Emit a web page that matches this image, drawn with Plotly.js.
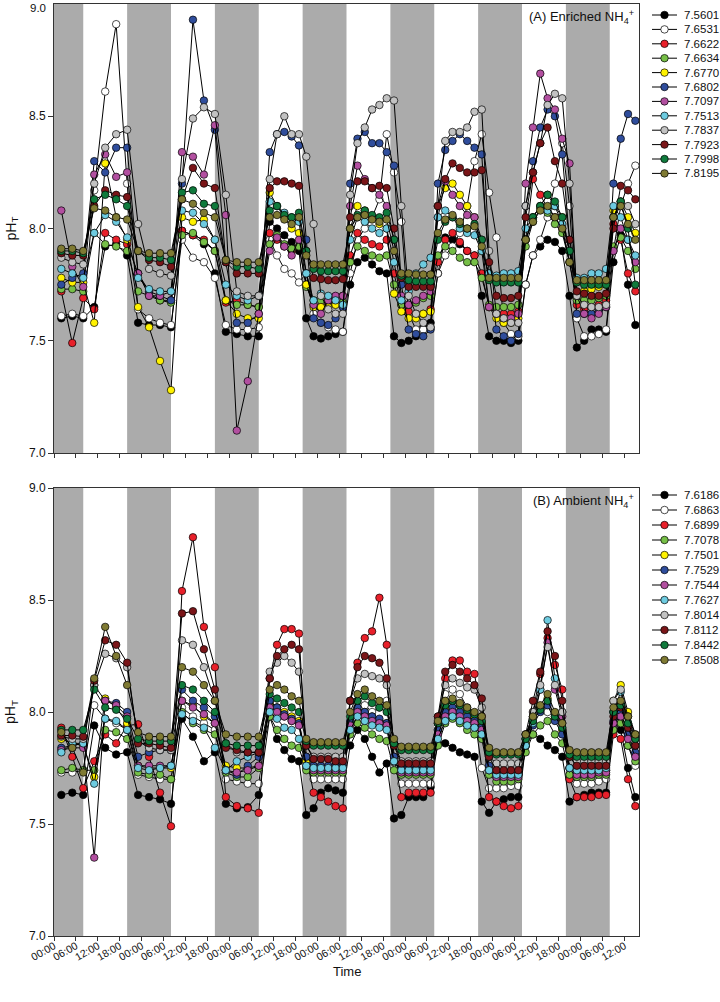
<!DOCTYPE html>
<html><head><meta charset="utf-8">
<script src="https://cdn.plot.ly/plotly-3.0.1.min.js"></script>
<style>html,body{margin:0;padding:0;background:#fff;}#chart{width:720px;height:1002px;}</style>
</head><body><div id="chart"></div>
<script>
// sampling times (hours from start)
const hours = [2,5,8,11,14,17,20,23,26,29,32,35,38,41,44,47,50,53,56,59,61,63,65,67,69,71,73,75,77,79,81,83,85,87,89,91,93,95,97,99,101,103,105,107,109,111,113,115,117,119,121,123,125,127,129,131,133,135,137,139,141,143,145,147,149,151,153,155,157,159];
const tickHours = [0,6,12,18,24,30,36,42,48,54,60,66,72,78,84,90,96,102,108,114,120,126,132,138,144,150,156];
const tickLabels = ["00:00","06:00","12:00","18:00","00:00","06:00","12:00","18:00","00:00","06:00","12:00","18:00","00:00","06:00","12:00","18:00","00:00","06:00","12:00","18:00","00:00","06:00","12:00","18:00","00:00","06:00","12:00"];
const midnightHours = [0,24,48,72,96,120,144];
const nightStart = [0,20,44,68,92,116,140];
const nightEnd = [8,32,56,80,104,128,152];
const yTicks = [7.0,7.5,8.0,8.5,9.0];
const yTickText = ["7.0","7.5","8.0","8.5","9.0"];

const namesA = ["7.5601","7.6531","7.6622","7.6634","7.6770","7.6802","7.7097","7.7513","7.7837","7.7923","7.7998","7.8195"];
const namesB = ["7.6186","7.6863","7.6899","7.7078","7.7501","7.7529","7.7544","7.7627","7.8014","7.8112","7.8442","7.8508"];
const colors = ["#000000","#ffffff","#e8202a","#76bf47","#fff200","#2f4d9c","#b24fa0","#6dcbe0","#c2c2c2","#7a1518","#0f7a3c","#7f7a33"];

// Panel A: Enriched NH4+
const A_black = [7.60,7.61,7.60,7.65,7.92,7.93,7.88,7.58,7.57,7.57, 7.56,7.99,7.97,7.93,7.80,7.54,7.53,7.52,7.52,8.03, 8.00,7.97,7.94,7.90,7.60,7.52,7.51,7.52,7.53,7.54, 7.75,7.85,7.87,7.84,7.81,7.80,7.52,7.49,7.50,7.52, 7.56,7.58,7.80,7.96,7.95,7.93,7.90,7.88,7.70,7.52, 7.50,7.50,7.49,7.50,7.75,7.88,7.92,7.95,7.94,7.90, 7.70,7.47,7.50,7.55,7.55,7.54,7.85,7.97,7.75,7.57];
const A_white = [7.61,7.62,7.61,8.17,8.61,8.91,8.20,7.64,7.60,7.58, 7.57,7.95,7.87,7.85,7.78,7.57,7.55,7.55,7.56,7.95, 7.88,7.82,7.80,7.76,7.80,7.62,7.58,7.56,7.55,7.54, 7.80,7.95,8.00,8.05,8.13,8.42,8.25,8.03,7.62,7.55, 7.55,7.56,7.80,7.88,7.92,7.98,8.10,8.30,8.42,8.16, 7.96,7.58,7.53,7.52,7.75,7.88,7.95,8.05,8.20,8.38, 8.10,7.60,7.52,7.52,7.53,7.55,7.90,8.10,8.20,8.28];
const A_red = [7.72,7.49,7.69,7.64,7.98,7.95,7.93,7.80,7.71,7.68, 7.68,7.99,7.97,7.95,7.90,7.67,7.68,7.66,7.65,7.98, 7.95,7.92,7.90,7.92,7.75,7.66,7.65,7.66,7.68,7.70, 7.88,7.98,7.95,7.93,7.92,7.95,7.80,7.66,7.63,7.62, 7.62,7.64,7.85,7.95,7.98,7.94,7.90,7.88,7.80,7.65, 7.62,7.62,7.62,7.63,7.95,8.22,8.15,8.09,8.05,8.00, 7.85,7.66,7.64,7.65,7.66,7.68,8.02,7.95,7.80,7.72];
const A_lgreen = [7.73,7.73,7.72,7.98,7.93,7.92,7.90,7.72,7.70,7.68, 7.67,7.97,7.98,7.94,7.90,7.68,7.66,7.66,7.65,7.93, 7.97,7.93,7.91,7.92,7.74,7.68,7.68,7.68,7.67,7.67, 7.85,7.92,7.90,7.88,7.87,7.88,7.75,7.66,7.66,7.67, 7.69,7.70,7.88,7.92,7.90,7.87,7.85,7.85,7.78,7.66, 7.65,7.65,7.65,7.66,7.92,8.03,8.09,8.07,8.02,7.98, 7.85,7.68,7.68,7.68,7.69,7.70,7.92,7.96,7.90,7.82];
const A_yellow = [7.78,7.76,7.76,7.58,8.29,8.05,7.95,7.65,7.56,7.41, 7.28,8.05,8.03,8.04,7.95,7.68,7.62,7.60,7.60,8.16, 8.10,8.05,8.00,7.98,7.75,7.65,7.65,7.65,7.66,7.66, 8.00,8.10,8.08,8.05,8.02,8.00,7.71,7.63,7.60,7.60, 7.62,7.63,8.10,8.18,8.20,8.15,8.10,8.05,7.90,7.65, 7.60,7.58,7.58,7.60,7.95,8.05,8.10,8.15,8.10,8.05, 7.90,7.70,7.72,7.73,7.74,7.75,8.08,8.12,8.05,7.98];
const A_blue = [7.75,7.78,7.80,8.30,8.25,8.36,8.36,7.80,7.72,7.70, 7.68,8.20,8.93,8.57,8.44,7.85,7.58,7.58,7.62,8.34, 8.42,8.43,8.41,8.37,7.95,7.60,7.58,7.57,7.60,7.65, 8.20,8.40,8.43,8.38,8.38,8.34,8.28,7.75,7.55,7.53, 7.52,7.55,8.20,8.35,8.39,8.42,8.39,8.36,8.33,7.80, 7.55,7.52,7.50,7.53,8.10,8.30,8.45,8.53,8.50,8.33, 7.95,7.62,7.62,7.62,7.63,7.65,8.20,8.40,8.51,8.48];
const A_magenta = [8.08,7.83,7.74,8.24,8.33,8.23,8.25,7.80,7.70,7.70, 7.72,8.34,8.32,8.24,8.46,8.06,7.10,7.32,7.62,7.90, 7.96,7.92,7.88,7.95,7.80,7.66,7.62,7.68,7.70,7.70, 8.10,8.28,8.22,8.18,8.15,8.10,7.95,7.70,7.66,7.68, 7.70,7.72,8.05,8.21,8.15,8.10,8.06,8.05,7.95,7.65, 7.62,7.60,7.60,7.62,8.20,8.45,8.69,8.58,8.53,8.40, 8.29,7.70,7.62,7.60,7.62,7.65,7.90,8.00,7.95,7.85];
const A_cyan = [7.82,7.80,7.78,7.98,8.06,8.03,7.96,7.78,7.73,7.72, 7.72,8.08,8.07,8.02,7.95,7.75,7.70,7.68,7.70,8.12, 8.10,8.07,8.05,8.03,7.80,7.68,7.71,7.70,7.68,7.66, 7.95,8.05,8.03,8.00,7.98,8.00,7.85,7.68,7.72,7.80, 7.84,7.87,8.05,8.08,8.05,8.00,7.98,7.97,7.90,7.80, 7.79,7.80,7.80,7.81,8.00,8.05,8.10,8.08,8.10,8.02, 7.90,7.78,7.78,7.80,7.80,7.82,8.10,8.05,7.95,7.88];
const A_gray = [7.87,7.85,7.84,8.20,8.36,8.42,8.44,8.02,7.82,7.80, 7.79,8.22,8.49,8.54,8.51,8.15,7.72,7.70,7.70,8.22, 8.42,8.50,8.42,8.42,8.32,8.02,7.70,7.64,7.62,7.62, 8.15,8.38,8.45,8.53,8.55,8.58,8.57,8.10,7.70,7.62, 7.58,7.56,8.10,8.39,8.43,8.43,8.45,8.52,8.53,7.90, 7.62,7.60,7.58,7.58,8.10,8.25,8.38,8.55,8.60,8.58, 8.20,7.70,7.66,7.65,7.65,7.66,8.05,8.12,8.10,8.02];
const A_maroon = [7.89,7.88,7.88,8.10,8.17,8.15,8.14,7.90,7.86,7.85, 7.83,8.13,8.27,8.20,8.18,7.85,7.80,7.80,7.80,8.18, 8.21,8.21,8.20,8.19,7.90,7.78,7.775,7.77,7.77,7.775, 8.05,8.21,8.21,8.18,8.19,8.18,8.00,7.78,7.74,7.74, 7.74,7.74,8.10,8.22,8.29,8.27,8.25,8.25,8.26,7.85, 7.70,7.69,7.69,7.70,8.05,8.25,8.38,8.45,8.30,8.20, 7.95,7.72,7.71,7.70,7.70,7.71,8.00,8.19,8.17,8.13];
const A_green = [7.90,7.90,7.89,8.13,8.15,8.13,8.10,7.90,7.87,7.87, 7.86,8.16,8.17,8.11,8.10,7.86,7.83,7.83,7.82,8.08, 8.10,8.06,8.05,8.07,7.90,7.82,7.81,7.81,7.81,7.81, 8.00,8.06,8.08,8.06,8.05,8.07,7.95,7.79,7.77,7.765, 7.765,7.765,7.95,8.03,8.05,8.02,8.00,8.02,7.95,7.77, 7.76,7.76,7.76,7.76,7.95,8.05,8.10,8.15,8.12,8.05, 7.90,7.76,7.75,7.75,7.75,7.75,8.05,8.12,8.00,7.75];
const A_olive = [7.91,7.91,7.90,8.09,8.08,8.05,8.04,7.90,7.89,7.89, 7.89,8.13,8.11,8.07,8.05,7.86,7.85,7.85,7.85,8.05, 8.06,8.04,8.02,8.05,7.88,7.84,7.84,7.84,7.84,7.84, 8.00,8.05,8.06,8.04,8.03,8.04,7.90,7.80,7.80,7.795, 7.795,7.795,7.98,8.04,8.06,8.03,8.00,8.01,7.92,7.78, 7.78,7.78,7.78,7.78,7.95,8.03,8.08,8.10,8.05,8.00, 7.85,7.77,7.77,7.77,7.77,7.77,8.05,8.10,8.02,7.95];

// Panel B: Ambient NH4+
const B_black = [7.63,7.64,7.63,7.94,7.84,7.81,7.82,7.63,7.62,7.61, 7.59,7.97,7.89,7.78,7.82,7.59,7.57,7.575,7.63,7.98, 7.88,7.83,7.79,7.78,7.54,7.57,7.64,7.66,7.65,7.64, 7.85,7.92,7.88,7.80,7.73,7.77,7.525,7.54,7.62,7.62, 7.62,7.665,7.86,7.86,7.84,7.82,7.81,7.80,7.60,7.55, 7.60,7.61,7.62,7.62,7.85,7.90,7.88,7.85,7.83,7.80, 7.60,7.62,7.63,7.64,7.64,7.64,7.95,7.92,7.75,7.62];
const B_white = [7.73,7.73,7.74,8.03,7.97,7.95,7.92,7.72,7.71,7.70, 7.70,8.02,7.98,7.95,7.92,7.70,7.69,7.68,7.68,8.05, 8.02,7.98,7.96,7.95,7.75,7.70,7.70,7.70,7.70,7.70, 7.95,8.05,8.03,8.00,8.02,8.05,7.75,7.68,7.68,7.68, 7.68,7.68,7.95,8.08,8.10,8.08,8.02,7.98,7.75,7.66, 7.66,7.66,7.67,7.67,7.90,7.98,8.02,8.00,7.98,7.95, 7.72,7.68,7.68,7.68,7.69,7.70,8.00,7.95,7.85,7.76];
const B_red = [7.93,7.80,7.66,7.78,7.90,7.86,7.94,7.945,7.80,7.64, 7.49,8.54,8.78,8.38,8.20,7.62,7.58,7.57,7.55,8.15, 8.30,8.37,8.37,8.35,7.80,7.64,7.62,7.60,7.58,7.57, 8.05,8.22,8.33,8.36,8.51,8.30,7.80,7.62,7.64,7.64, 7.64,7.64,7.95,8.15,8.23,8.23,8.18,8.17,7.98,7.62, 7.60,7.58,7.57,7.58,7.85,8.00,8.17,8.33,8.21,8.10, 7.70,7.62,7.62,7.62,7.63,7.63,7.90,7.88,7.70,7.58];
const B_lgreen = [7.74,7.75,7.74,7.74,7.92,7.91,7.88,7.73,7.72,7.72, 7.70,8.00,7.95,7.92,7.90,7.73,7.71,7.71,7.75,7.98, 7.92,7.88,7.85,7.84,7.74,7.73,7.73,7.73,7.73,7.73, 7.90,7.95,7.93,7.90,7.88,7.87,7.74,7.72,7.72,7.72, 7.72,7.72,7.85,7.95,7.97,7.95,7.92,7.90,7.88,7.72, 7.69,7.69,7.69,7.70,7.82,7.90,7.94,7.96,7.90,7.86, 7.72,7.71,7.71,7.71,7.72,7.72,7.92,7.95,7.85,7.78];
const B_yellow = [7.88,7.86,7.85,7.71,8.06,8.02,7.95,7.76,7.75,7.75, 7.75,8.05,8.03,7.98,7.95,7.76,7.75,7.75,7.76,8.04, 8.02,8.00,7.98,7.96,7.78,7.75,7.75,7.75,7.75,7.75, 7.95,8.02,8.00,7.98,7.96,7.95,7.78,7.74,7.74,7.74, 7.74,7.74,7.92,8.02,8.05,8.03,8.00,7.98,7.95,7.75, 7.72,7.72,7.72,7.72,7.86,7.95,8.02,8.06,7.97,7.92, 7.75,7.73,7.73,7.73,7.74,7.74,8.05,8.12,8.00,7.90];
const B_blue = [7.84,7.85,7.86,8.12,8.05,8.04,8.00,7.80,7.82,7.83, 7.83,8.10,8.05,8.02,7.98,7.74,7.72,7.76,7.80,8.05, 8.02,7.99,7.97,7.95,7.80,7.76,7.76,7.76,7.76,7.76, 7.96,8.02,8.00,7.98,7.97,7.95,7.80,7.75,7.75,7.75, 7.75,7.75,7.92,8.00,8.02,8.00,7.98,7.96,7.93,7.76, 7.72,7.72,7.72,7.72,7.85,7.94,8.00,8.03,7.96,7.90, 7.75,7.73,7.73,7.73,7.74,7.74,7.96,8.00,7.90,7.82];
const B_magenta = [7.83,7.84,7.84,7.35,8.05,8.03,7.98,7.76,7.76,7.76, 7.76,8.05,8.02,7.99,7.95,7.74,7.73,7.74,7.76,8.02, 8.00,7.98,7.96,7.94,7.76,7.74,7.74,7.74,7.74,7.74, 7.94,8.00,7.98,7.96,7.95,7.94,7.78,7.73,7.73,7.73, 7.73,7.73,7.90,7.98,8.00,7.98,7.96,7.95,7.92,7.74, 7.71,7.71,7.71,7.71,7.88,7.98,8.10,8.31,8.10,7.98, 7.75,7.72,7.72,7.72,7.73,7.73,7.95,7.98,7.88,7.80];
const B_cyan = [7.82,7.86,7.86,7.68,7.97,7.96,7.92,7.75,7.74,7.75, 7.76,7.99,7.96,7.93,7.84,7.74,7.78,7.80,7.82,8.00, 7.97,7.93,7.92,7.88,7.76,7.75,7.75,7.75,7.75,7.75, 7.92,7.98,7.96,7.94,7.93,7.92,7.78,7.74,7.74,7.74, 7.74,7.74,7.88,7.96,7.98,7.96,7.94,7.93,7.90,7.74, 7.72,7.72,7.72,7.72,7.85,7.95,8.10,8.41,8.15,8.00, 7.75,7.74,7.74,7.74,7.74,7.75,8.00,8.09,7.95,7.85];
const B_gray = [7.89,7.88,7.88,8.12,8.26,8.24,8.20,7.87,7.84,7.83, 7.83,8.32,8.30,8.20,8.05,7.86,7.82,7.82,7.82,8.18, 8.22,8.25,8.22,8.18,7.85,7.80,7.80,7.80,7.80,7.80, 8.05,8.15,8.17,8.16,8.15,8.12,7.86,7.78,7.78,7.78, 7.78,7.78,7.98,8.12,8.15,8.13,8.11,8.10,8.02,7.80, 7.77,7.77,7.77,7.77,7.88,8.00,8.12,8.29,8.12,8.00, 7.80,7.78,7.78,7.78,7.78,7.78,8.05,8.10,7.98,7.88];
const B_maroon = [7.895,7.895,7.89,8.14,8.32,8.30,8.22,7.86,7.86,7.85, 7.84,8.44,8.45,8.28,8.10,7.84,7.83,7.82,7.82,8.15, 8.25,8.28,8.30,8.28,7.85,7.79,7.79,7.79,7.78,7.78, 8.05,8.20,8.25,8.24,8.22,8.15,7.85,7.77,7.77,7.77, 7.77,7.77,7.98,8.18,8.21,8.18,8.15,8.12,8.06,7.80, 7.74,7.74,7.74,7.74,7.90,8.05,8.18,8.36,8.25,8.05, 7.80,7.76,7.76,7.76,7.76,7.76,7.98,8.02,7.93,7.85];
const B_green = [7.92,7.92,7.92,8.10,8.02,8.01,7.97,7.88,7.87,7.87, 7.87,8.12,8.10,8.05,8.00,7.86,7.85,7.85,7.85,8.08, 8.06,8.04,8.02,8.00,7.87,7.85,7.85,7.85,7.85,7.85, 7.98,8.05,8.07,8.04,8.02,8.00,7.86,7.83,7.83,7.83, 7.83,7.83,7.95,8.03,8.05,8.03,8.01,7.99,7.96,7.82, 7.81,7.81,7.81,7.81,7.88,7.96,8.01,8.05,7.98,7.93, 7.81,7.80,7.80,7.80,7.80,7.80,8.00,8.03,7.95,7.88];
const B_olive = [7.91,7.84,7.73,8.15,8.38,8.25,8.12,7.91,7.89,7.89, 7.89,8.20,8.18,8.12,8.05,7.90,7.89,7.89,7.89,8.10, 8.12,8.10,8.07,8.05,7.88,7.865,7.865,7.865,7.865,7.865, 8.00,8.08,8.10,8.07,8.05,8.03,7.88,7.845,7.845,7.845, 7.845,7.845,7.96,8.05,8.06,8.04,8.02,8.00,7.98,7.84, 7.82,7.82,7.82,7.82,7.90,7.98,8.03,8.08,8.00,7.95, 7.83,7.82,7.82,7.82,7.82,7.82,8.02,8.05,7.98,7.90];

const seriesA = [A_black,A_white,A_red,A_lgreen,A_yellow,A_blue,A_magenta,A_cyan,A_gray,A_maroon,A_green,A_olive];
const seriesB = [B_black,B_white,B_red,B_lgreen,B_yellow,B_blue,B_magenta,B_cyan,B_gray,B_maroon,B_green,B_olive];

// ---------- layout geometry (pixels) ----------
const W = 720, H = 1002;
const mL = 54, mR = 0, mT = 4, mB = 66;
const plotW = W - mL - mR, plotH = H - mT - mB;
const plotRight = 639;
const panelA = [4, 453], panelB = [488, 936];
const py = p => (H - mB - p) / plotH;      // pixel y -> paper y
const px = p => (p - mL) / plotW;          // pixel x -> paper x
const domX = [0, px(plotRight)];
const domA = [py(panelA[1]), py(panelA[0])];
const domB = [py(panelB[1]), py(panelB[0])];
const legX = [650, 720];
const font = "Liberation Sans, Arial, sans-serif";
const axCol = "#333";

const traces = [];
function addPanel(series, names, xa, ya) {
  series.forEach((vals, i) => {
    traces.push({
      x: hours, y: vals, xaxis: xa, yaxis: ya, type: "scatter", mode: "lines+markers",
      name: names[i], showlegend: false,
      line: {color: "#000", width: 1},
      marker: {color: colors[i], size: 7.5, line: {color: "#000", width: 0.7}}
    });
  });
}
addPanel(seriesA, namesA, "x", "y");
addPanel(seriesB, namesB, "x2", "y2");

// custom legends (one per panel)
const annotations = [];
function addLegend(names, xa, ya, y0, step) {
  names.forEach((n, i) => {
    const ry = y0 + step * i;
    traces.push({
      x: [652, 664.5, 677], y: [ry, ry, ry], xaxis: xa, yaxis: ya, type: "scatter",
      mode: "lines+markers", showlegend: false, cliponaxis: false,
      line: {color: "#000", width: 1},
      marker: {color: colors[i], size: 7.5, opacity: [0, 1, 0], line: {color: "#000", width: 0.7}}
    });
    annotations.push({xref: xa, yref: ya, x: 682, y: ry, text: n, showarrow: false,
      xanchor: "left", yanchor: "middle", font: {family: font, size: 11.5, color: "#111"}});
  });
}
addLegend(namesA, "x3", "y3", 15, 14.4);
addLegend(namesB, "x4", "y4", 495, 15);

// night shading
const shapes = [];
[["x", "y"], ["x2", "y2"]].forEach(([xr, yr]) => {
  nightStart.forEach((s, i) => shapes.push({type: "rect", xref: xr, yref: yr + " domain",
    x0: s, x1: nightEnd[i], y0: 0, y1: 1, fillcolor: "#ababab", line: {width: 0}, layer: "below"}));
});

annotations.push({xref: "paper", yref: "paper", x: px(636), y: py(17), xanchor: "right", yanchor: "middle",
  showarrow: false, text: "(A) Enriched NH<sub>4</sub><sup>+</sup>", font: {family: font, size: 13, color: "#111"}});
annotations.push({xref: "paper", yref: "paper", x: px(636), y: py(501), xanchor: "right", yanchor: "middle",
  showarrow: false, text: "(B) Ambient NH<sub>4</sub><sup>+</sup>", font: {family: font, size: 13, color: "#111"}});
annotations.push({xref: "paper", yref: "paper", x: px(347), y: py(971), xanchor: "center", yanchor: "middle",
  showarrow: false, text: "Time", font: {family: font, size: 13, color: "#111"}});
[[panelA], [panelB]].forEach(([pan]) => {
  annotations.push({xref: "paper", yref: "paper", x: px(11), y: py((pan[0] + pan[1]) / 2), xanchor: "center", yanchor: "middle",
    textangle: -90, showarrow: false, text: "pH<sub>T</sub>", font: {family: font, size: 14, color: "#111"}});
});
// y tick label for 9.0 on the top panel, kept fully inside the page
annotations.push({xref: "paper", yref: "y", x: px(48), y: yTicks[4], xanchor: "right", yanchor: "top",
  yshift: 4, showarrow: false, text: yTickText[4], font: {family: font, size: 11.5, color: "#111"}});

const baseX = {range: [0, 160], domain: domX, tickvals: tickHours, ticks: "outside", ticklen: 4, tickwidth: 1,
  tickcolor: axCol, showline: true, linecolor: axCol, linewidth: 1, mirror: true, showgrid: false, zeroline: false,
  fixedrange: true};
const baseY = {range: [7, 9], tickvals: yTicks, ticktext: yTickText, ticks: "outside", ticklen: 5, tickwidth: 1,
  tickcolor: axCol, showline: true, linecolor: axCol, linewidth: 1, mirror: true, showgrid: false, zeroline: false,
  ticklabeloverflow: "allow", tickfont: {family: font, size: 12, color: "#111"}};
const midX = {range: [0, 160], domain: domX, tickvals: midnightHours, ticks: "outside", ticklen: 8, tickwidth: 1,
  tickcolor: axCol, showticklabels: false, showline: false, showgrid: false, zeroline: false};

const layout = {
  width: W, height: H, margin: {l: mL, r: mR, t: mT, b: mB},
  paper_bgcolor: "#fff", plot_bgcolor: "rgba(0,0,0,0)", showlegend: false,
  font: {family: font, color: "#111"},
  xaxis: Object.assign({}, baseX, {anchor: "y", showticklabels: false}),
  yaxis: Object.assign({}, baseY, {domain: domA, anchor: "x",
    tickvals: yTicks.slice(0, 4), ticktext: yTickText.slice(0, 4)}),
  xaxis2: Object.assign({}, baseX, {anchor: "y2", ticktext: tickLabels, tickangle: -30,
    ticklabelstandoff: -5, tickfont: {family: font, size: 10.5, color: "#111"}}),
  yaxis2: Object.assign({}, baseY, {domain: domB, anchor: "x2"}),
  xaxis5: Object.assign({}, midX, {anchor: "y", overlaying: "x"}),
  xaxis6: Object.assign({}, midX, {anchor: "y2", overlaying: "x2"}),
  xaxis3: {domain: [px(legX[0]), 1], range: legX, anchor: "y3", visible: false, fixedrange: true},
  yaxis3: {domain: domA, range: [panelA[1], panelA[0]], anchor: "x3", visible: false, fixedrange: true},
  xaxis4: {domain: [px(legX[0]), 1], range: legX, anchor: "y4", visible: false, fixedrange: true},
  yaxis4: {domain: domB, range: [panelB[1], panelB[0]], anchor: "x4", visible: false, fixedrange: true},
  shapes: shapes, annotations: annotations
};
Plotly.newPlot("chart", traces, layout, {staticPlot: true, displayModeBar: false});
</script></body></html>
